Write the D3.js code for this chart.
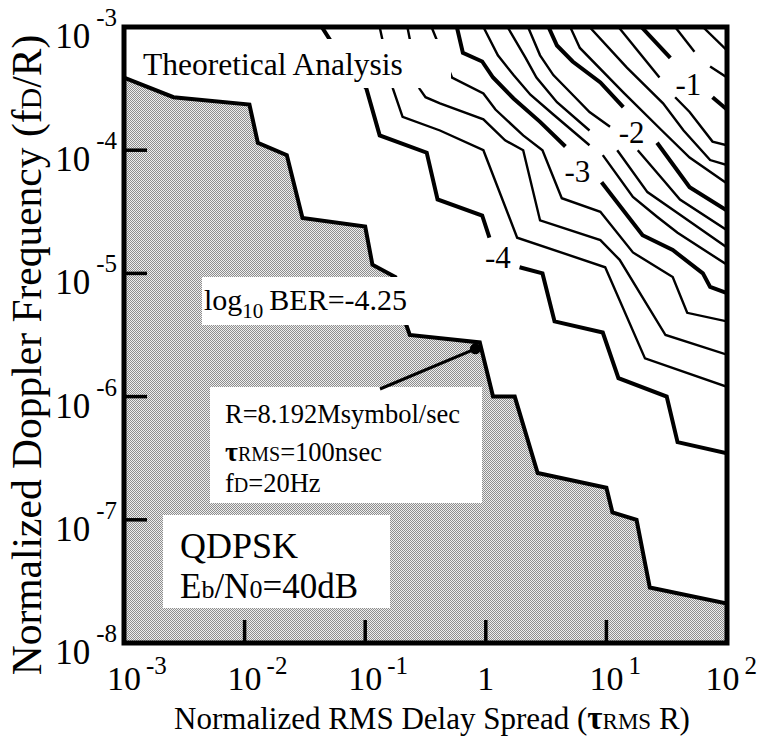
<!DOCTYPE html>
<html>
<head>
<meta charset="utf-8">
<script src="https://cdn.jsdelivr.net/npm/d3@7"></script>
<style>
  html, body { margin: 0; padding: 0; background: #fff; }
  svg { display: block; font-family: "Liberation Serif", "Times New Roman", serif; }
</style>
</head>
<body>
<svg id="chart" width="761" height="739"></svg>
<script>
// ---- axes: decades (log10 exponents) and their labels ----
const xTickExp = [-3, -2, -1, 0, 1, 2];
const xTickLabels = [["10", "-3"], ["10", "-2"], ["10", "-1"], ["1", ""], ["10", "1"], ["10", "2"]];
const yTickExp = [-3, -4, -5, -6, -7, -8];
const yTickLabels = [["10", "-3"], ["10", "-4"], ["10", "-5"], ["10", "-6"], ["10", "-7"], ["10", "-8"]];

// ---- log10 BER contours, vertices as [log10(tau_RMS R), log10(fD/R)] ----
// the -4.25 contour bounds the shaded region
const ber425 = [[-3.00,-3.41],[-2.59,-3.57],[-1.96,-3.63],[-1.89,-3.94],[-1.65,-4.04],[-1.52,-4.55],
  [-1.00,-4.62],[-0.94,-4.93],[-0.75,-5.03],[-0.67,-5.39],[-0.63,-5.50],[-0.05,-5.56],[0.06,-6.00],
  [0.24,-6.00],[0.43,-6.62],[1.00,-6.74],[1.05,-6.94],[1.25,-7.00],[1.36,-7.55],[2.00,-7.68]];

// remaining contours are lists of pieces (breaks leave room for the level labels)
const ber400 = [
  [[-1.36,-3.00],[-1.21,-3.23],[-0.99,-3.50],[-0.88,-3.88],[-0.49,-4.02],[-0.40,-4.40],[-0.03,-4.53],[0.03,-4.71]],
  [[0.28,-4.95],[0.47,-5.00],[0.57,-5.39],[0.97,-5.48],[1.10,-5.85],[1.50,-6.00],[1.59,-6.37],[2.00,-6.46]]];
const ber375 = [
  [[-0.88,-3.00],[-0.77,-3.50],[-0.69,-3.73],[-0.38,-3.84],[-0.02,-4.00],[0.26,-4.71],[0.99,-4.95],[1.32,-5.69],[2.00,-5.92]]];
const ber350 = [
  [[-0.65,-3.00],[-0.55,-3.50],[-0.50,-3.57],[-0.38,-3.62],[-0.02,-3.75],[0.16,-3.92],[0.31,-4.00],[0.45,-4.57],
   [0.95,-4.73],[1.11,-4.89],[1.49,-5.50],[2.00,-5.66]]];
const ber325 = [
  [[-0.45,-3.00],[-0.28,-3.41],[-0.02,-3.54],[0.08,-3.67],[0.31,-3.88],[0.47,-4.00],[0.63,-4.39],[0.95,-4.50],
   [1.22,-4.83],[1.55,-5.03],[1.67,-5.32],[2.00,-5.39]]];
const ber300 = [
  [[-0.24,-3.00],[-0.19,-3.21],[-0.03,-3.28],[0.06,-3.41],[0.23,-3.58],[0.45,-3.77],[0.66,-3.97]],
  [[0.96,-4.26],[1.30,-4.69],[1.55,-4.81],[1.80,-5.00],[1.86,-5.11],[2.00,-5.16]]];
const ber275 = [
  [[-0.02,-3.00],[0.10,-3.23],[0.23,-3.39],[0.37,-3.55],[0.56,-3.71],[0.86,-3.96]],
  [[0.97,-4.04],[1.22,-4.38],[1.42,-4.54],[1.59,-4.67],[2.00,-4.93]]];
const ber250 = [
  [[0.18,-3.00],[0.33,-3.25],[0.42,-3.41],[0.59,-3.61],[0.86,-3.84]],
  [[1.09,-4.00],[1.34,-4.34],[1.59,-4.51],[2.00,-4.79]]];
const ber225 = [
  [[0.35,-3.00],[0.45,-3.23],[0.56,-3.39],[0.72,-3.55],[0.86,-3.69],[1.03,-3.81]],
  [[1.26,-4.00],[1.47,-4.24],[1.61,-4.40],[2.00,-4.65]]];
const ber200 = [
  [[0.52,-3.00],[0.59,-3.15],[0.72,-3.28],[0.95,-3.45],[1.14,-3.65]],
  [[1.42,-3.94],[1.69,-4.30],[2.00,-4.49]]];
const ber175 = [[[0.70,-3.00],[0.78,-3.17],[1.14,-3.53],[1.46,-3.84],[1.69,-4.06],[2.00,-4.27]]];
const ber150 = [[[0.86,-3.00],[1.17,-3.33],[1.47,-3.62],[1.64,-3.84],[1.86,-4.08],[2.00,-4.12]]];
const ber125 = [
  [[1.10,-3.00],[1.44,-3.41]],
  [[1.57,-3.57],[1.69,-3.69],[1.88,-3.93],[2.00,-3.96]]];
const ber100 = [
  [[1.29,-3.00],[1.53,-3.25]],
  [[1.88,-3.57],[2.00,-3.67]]];
const ber075 = [
  [[1.57,-3.00],[1.73,-3.20]],
  [[1.86,-3.32],[2.00,-3.41]]];
const ber050 = [[[1.80,-3.00],[2.00,-3.19]]];

const contourLevels = [-4, -3.75, -3.5, -3.25, -3, -2.75, -2.5, -2.25, -2, -1.75, -1.5, -1.25, -1, -0.75, -0.5];
const contourPieces = [ber400, ber375, ber350, ber325, ber300, ber275, ber250, ber225, ber200, ber175, ber150, ber125, ber100, ber075, ber050];

// level labels placed on the integer contours
const levelLabels = ["-4", "-3", "-2", "-1"];
const levelLabelAt = [[0.10,-4.87], [0.76,-4.17], [1.21,-3.85], [1.68,-3.46]];

// operating point: R = 8.192 Msymbol/s, tau_RMS = 100 ns, fD = 20 Hz
const symbolRate = 8.192e6;
const tauRms = 100e-9;
const dopplerHz = 20;

// ---- layout ----
const W = 761, H = 739;
const plot = { left: 124, right: 727, top: 27, bottom: 643 };

const svg = d3.select("#chart");
const x = d3.scaleLog().domain([1e-3, 1e2]).range([plot.left, plot.right]);
const y = d3.scaleLog().domain([1e-3, 1e-8]).range([plot.top, plot.bottom]);
const px = p => x(Math.pow(10, p[0]));
const py = p => y(Math.pow(10, p[1]));
const line = d3.line().x(px).y(py);

// halftone fill for the region below the -4.25 contour
const defs = svg.append("defs");
const pat = defs.append("pattern").attr("id", "halftone")
  .attr("patternUnits", "userSpaceOnUse").attr("width", 2).attr("height", 2);
pat.append("rect").attr("width", 2).attr("height", 2).attr("fill", "#eeeeee");
pat.append("rect").attr("x", 0).attr("y", 0).attr("width", 1).attr("height", 1).attr("fill", "#8e8e8e");
pat.append("rect").attr("x", 1).attr("y", 1).attr("width", 1).attr("height", 1).attr("fill", "#8e8e8e");

defs.append("clipPath").attr("id", "plotClip").append("rect")
  .attr("x", plot.left).attr("y", plot.top)
  .attr("width", plot.right - plot.left).attr("height", plot.bottom - plot.top);

const gPlot = svg.append("g").attr("clip-path", "url(#plotClip)");

// shaded region: -4.25 contour closed along the lower-right/lower-left corners
const region = ber425.concat([[2, -8], [-3, -8]]);
gPlot.append("path")
  .attr("d", line(region) + "Z")
  .attr("fill", "url(#halftone)")
  .attr("shape-rendering", "crispEdges");
gPlot.append("path")
  .attr("d", line(ber425))
  .attr("fill", "none").attr("stroke", "#000").attr("stroke-width", 4)
  .attr("stroke-linejoin", "miter");

// contour lines: integer levels heavy, quarter levels light
contourLevels.forEach((lev, i) => {
  const heavy = Number.isInteger(lev);
  contourPieces[i].forEach(piece => {
    gPlot.append("path")
      .attr("d", line(piece))
      .attr("fill", "none")
      .attr("stroke", "#000")
      .attr("stroke-width", heavy ? 4 : 2.4)
      .attr("stroke-linejoin", "miter");
  });
});

// level labels
svg.append("g").selectAll("text").data(levelLabels).join("text")
  .attr("x", (d, i) => px(levelLabelAt[i]))
  .attr("y", (d, i) => py(levelLabelAt[i]))
  .attr("dy", "0.35em")
  .attr("text-anchor", "middle")
  .attr("font-size", 31)
  .text(d => d);

// ---- text boxes ----
function whiteBox(bx, by, bw, bh) {
  svg.append("rect").attr("x", bx).attr("y", by).attr("width", bw).attr("height", bh).attr("fill", "#fff");
}

// title box (hides the contour ends it sits over)
whiteBox(300, 39, 151, 49);
svg.append("text").attr("x", 143).attr("y", 75).attr("font-size", 31.5).text("Theoretical Analysis");

// boundary level annotation
whiteBox(202, 277, 222, 48);
{
  const t = svg.append("text").attr("x", 204).attr("y", 310).attr("font-size", 30);
  t.append("tspan").text("log");
  t.append("tspan").attr("font-size", 21).attr("dy", 8).text("10");
  t.append("tspan").attr("dy", -8).attr("dx", 6).text("BER=-4.25");
}

// operating point annotation
const anno = { x: 210, y: 387, w: 272, h: 116 };
whiteBox(anno.x, anno.y, anno.w, anno.h);
{
  const t1 = svg.append("text").attr("x", 225).attr("y", 423).attr("font-size", 26.5);
  t1.text("R=8.192Msymbol/sec");
  const t2 = svg.append("text").attr("x", 225).attr("y", 461).attr("font-size", 26.5);
  t2.append("tspan").attr("font-weight", "bold").attr("font-size", 28).text("\u03C4");
  t2.append("tspan").attr("font-size", 20).text("RMS");
  t2.append("tspan").text("=100nsec");
  const t3 = svg.append("text").attr("x", 225).attr("y", 492).attr("font-size", 26.5);
  t3.append("tspan").text("f");
  t3.append("tspan").attr("font-size", 20).text("D");
  t3.append("tspan").text("=20Hz");
}
const opX = x(tauRms * symbolRate);
const opY = y(dopplerHz / symbolRate);
svg.append("line")
  .attr("x1", opX).attr("y1", opY)
  .attr("x2", anno.x + 170).attr("y2", anno.y + 2)
  .attr("stroke", "#000").attr("stroke-width", 3);
svg.append("circle").attr("cx", opX).attr("cy", opY).attr("r", 5.5).attr("fill", "#000");

// modulation box
whiteBox(163, 515, 227, 93);
svg.append("text").attr("x", 180).attr("y", 558).attr("font-size", 36).text("QDPSK");
{
  const t = svg.append("text").attr("x", 180).attr("y", 598).attr("font-size", 35);
  t.append("tspan").text("E");
  t.append("tspan").attr("font-size", 26).text("b");
  t.append("tspan").text("/N");
  t.append("tspan").attr("font-size", 26).text("0");
  t.append("tspan").text("=40dB");
}

// ---- frame and inner ticks ----
svg.append("rect")
  .attr("x", plot.left).attr("y", plot.top)
  .attr("width", plot.right - plot.left).attr("height", plot.bottom - plot.top)
  .attr("fill", "none").attr("stroke", "#000").attr("stroke-width", 5);

const tickLen = 23;
svg.append("g").selectAll("line").data(yTickExp.slice(1, -1)).join("line")
  .attr("x1", plot.left).attr("x2", plot.left + tickLen)
  .attr("y1", d => y(Math.pow(10, d))).attr("y2", d => y(Math.pow(10, d)))
  .attr("stroke", "#000").attr("stroke-width", 3.5);
svg.append("g").selectAll("line").data(xTickExp.slice(1, -1)).join("line")
  .attr("x1", d => x(Math.pow(10, d))).attr("x2", d => x(Math.pow(10, d)))
  .attr("y1", plot.bottom).attr("y2", plot.bottom - tickLen)
  .attr("stroke", "#000").attr("stroke-width", 3.5);

// x tick labels: mantissa centred on the tick, exponent raised to its right
svg.append("g").selectAll("text").data(xTickExp).join("text")
  .attr("font-size", 34)
  .each(function (e, i) {
    const t = d3.select(this);
    const lab = xTickLabels[i];
    const base = t.append("tspan").text(lab[0]);
    if (lab[1]) t.append("tspan").attr("dx", 5).attr("dy", -16).attr("font-size", 25).text(lab[1]);
    const bw = base.node().getComputedTextLength();
    const total = this.getComputedTextLength() + 5;
    let x0 = x(Math.pow(10, e)) - bw / 2;
    x0 = Math.min(x0, W - 4 - total);
    t.attr("x", x0).attr("y", 690);
  });

// y tick labels: right-aligned beside the axis
svg.append("g").selectAll("text").data(yTickExp).join("text")
  .attr("font-size", 35)
  .attr("text-anchor", "end")
  .attr("x", plot.left - 7)
  .attr("y", d => y(Math.pow(10, d)) + 21)
  .each(function (e, i) {
    const t = d3.select(this);
    const lab = yTickLabels[i];
    t.append("tspan").text(lab[0]);
    t.append("tspan").attr("dx", 6).attr("dy", -22).attr("font-size", 25).text(lab[1]);
  });

// axis titles
{
  const t = svg.append("text").attr("x", 432).attr("y", 729).attr("text-anchor", "middle").attr("font-size", 31);
  t.append("tspan").text("Normalized RMS Delay Spread (");
  t.append("tspan").attr("font-weight", "bold").attr("font-size", 33).text("\u03C4");
  t.append("tspan").attr("font-size", 23).text("RMS");
  t.append("tspan").text(" R)");
}
{
  const t = svg.append("text")
    .attr("transform", "translate(41,355) rotate(-90)")
    .attr("text-anchor", "middle").attr("font-size", 41.5);
  t.append("tspan").text("Normalized Doppler Frequency (f");
  t.append("tspan").attr("font-size", 30).text("D");
  t.append("tspan").text("/R)");
}
</script>
</body>
</html>
